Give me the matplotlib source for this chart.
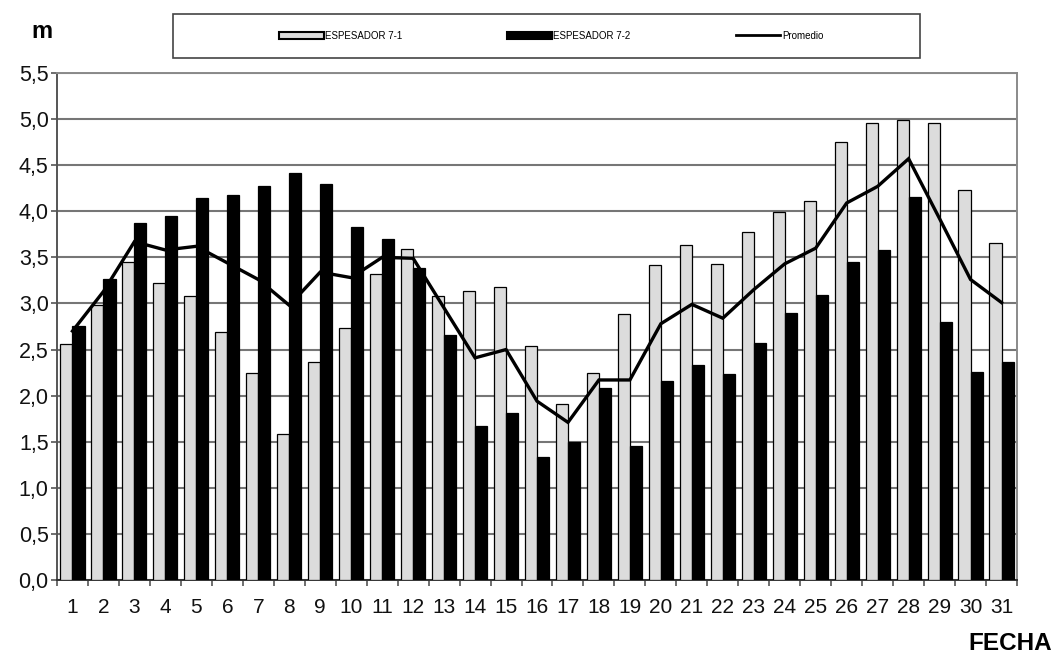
import matplotlib
matplotlib.use("Agg")
import matplotlib.pyplot as plt
from matplotlib.patches import Rectangle, Patch
from matplotlib.lines import Line2D
from matplotlib.ticker import FuncFormatter, MultipleLocator, FixedLocator
import numpy as np

# Daily thickener level readings (m)
fechas = list(range(1, 32))
espesador_7_1 = [2.56, 2.98, 3.45, 3.22, 3.08, 2.69, 2.25, 1.58, 2.37, 2.73,
                 3.32, 3.59, 3.08, 3.14, 3.18, 2.54, 1.91, 2.25, 2.89, 3.42,
                 3.63, 3.43, 3.78, 3.99, 4.11, 4.75, 4.96, 4.99, 4.96, 4.23,
                 3.66]
espesador_7_2 = [2.76, 3.27, 3.87, 3.95, 4.14, 4.18, 4.27, 4.42, 4.30, 3.83,
                 3.70, 3.39, 2.66, 1.67, 1.81, 1.33, 1.50, 2.08, 1.45, 2.16,
                 2.33, 2.24, 2.57, 2.90, 3.09, 3.45, 3.58, 4.15, 2.80, 2.26,
                 2.37]
promedio = [2.70, 3.13, 3.67, 3.58, 3.62, 3.44, 3.26, 2.98, 3.34, 3.28,
            3.50, 3.49, 2.95, 2.41, 2.50, 1.94, 1.71, 2.17, 2.17, 2.78,
            2.99, 2.84, 3.15, 3.43, 3.60, 4.09, 4.27, 4.57, 3.92, 3.26,
            3.01]
series_labels = ["ESPESADOR 7-1", "ESPESADOR 7-2", "Promedio"]

FONT = ["Liberation Sans", "DejaVu Sans"]

W, H = 1055, 654
fig = plt.figure(figsize=(W / 100, H / 100), dpi=100)
fig.patch.set_facecolor("white")

left, right, top, bottom = 57, 1017, 73, 580
ax = fig.add_axes([left / W, 1 - bottom / H, (right - left) / W, (bottom - top) / H])

x = np.array(fechas, dtype=float)
bw = 0.39
gray_fill = "#dcdcdc"
ax.bar(x - bw, espesador_7_1, width=bw, align="edge", color=gray_fill,
       edgecolor="black", linewidth=0.9, zorder=3)
ax.bar(x, espesador_7_2, width=bw, align="edge", color="black",
       edgecolor="black", linewidth=0.9, zorder=3)
ax.plot(x, promedio, color="black", linewidth=2.4, zorder=4,
        solid_joinstyle="miter")

ax.set_xlim(0.5, 31.5)
ax.set_ylim(0, 5.5)

# y axis: comma decimals
ax.yaxis.set_major_locator(MultipleLocator(0.5))
ax.yaxis.set_major_formatter(FuncFormatter(lambda v, p: f"{v:.1f}".replace(".", ",")))
ax.grid(axis="y", color="#767676", linewidth=1.5, zorder=1)
ax.set_axisbelow(True)

# x axis: labels at day centres, tick marks at day boundaries
ax.xaxis.set_major_locator(FixedLocator(fechas))
ax.set_xticklabels([str(f) for f in fechas])
ax.xaxis.set_minor_locator(FixedLocator(np.arange(0.5, 32, 1.0)))
ax.tick_params(axis="x", which="major", length=0, pad=13, labelsize=15)
ax.tick_params(axis="x", which="minor", length=4, width=1.2, color="#555555",
               direction="out")
ax.tick_params(axis="y", which="major", length=4, width=1.2, color="#555555",
               direction="out", pad=2, labelsize=15.5)
for lab in ax.get_xticklabels() + ax.get_yticklabels():
    lab.set_family(FONT)
    lab.set_color("#111111")

for side in ("top", "right"):
    ax.spines[side].set_color("#8a8a8a")
    ax.spines[side].set_linewidth(1.4)
ax.spines["left"].set_color("#555555")
ax.spines["left"].set_linewidth(1.4)
ax.spines["bottom"].set_color("#333333")
ax.spines["bottom"].set_linewidth(1.4)

# axis titles
fig.text(42 / W, 1 - 31 / H, "m", ha="center", va="center", fontsize=17,
         fontweight="bold", family=FONT)
fig.text(1052 / W, 1 - 644 / H, "FECHA", ha="right", va="center",
         fontsize=17.5, fontweight="bold", family=FONT)

# legend frame
fig.patches.append(Rectangle((173 / W, 1 - 58 / H), (920 - 173) / W, 44 / H,
                             transform=fig.transFigure, facecolor="white",
                             edgecolor="#444444", linewidth=1.2, zorder=5))
handles = [Patch(facecolor=gray_fill, edgecolor="black", linewidth=1.5),
           Patch(facecolor="black", edgecolor="black", linewidth=1.5),
           Line2D([], [], color="black", linewidth=2.0)]
leg = fig.legend(handles, series_labels, ncol=3, loc="center",
                 bbox_to_anchor=(551 / W, 1 - 36 / H), frameon=False,
                 prop={"family": FONT, "size": 7},
                 handlelength=4.6, handleheight=0.8, handletextpad=0.15,
                 columnspacing=10.8)
leg.set_zorder(6)

fig.savefig("out.png", dpi=100, facecolor="white")
